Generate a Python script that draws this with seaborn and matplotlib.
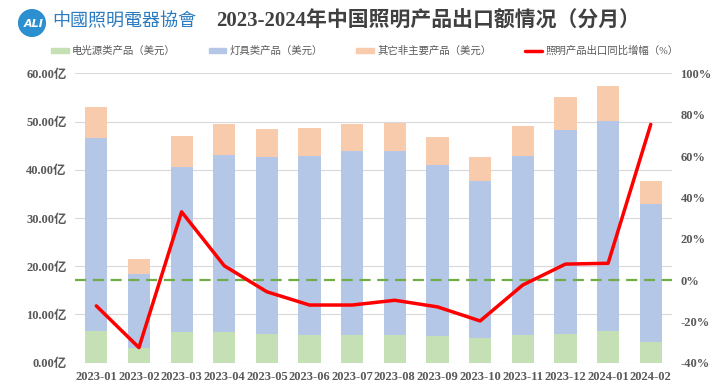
import numpy as np
import pandas as pd
import matplotlib
matplotlib.use("Agg")
import matplotlib.pyplot as plt
import seaborn as sns
from matplotlib.patches import Patch, Circle
from matplotlib.lines import Line2D
from matplotlib.ticker import FuncFormatter

# data, units: 亿美元 and %
months = ["2023-01", "2023-02", "2023-03", "2023-04", "2023-05", "2023-06", "2023-07",
          "2023-08", "2023-09", "2023-10", "2023-11", "2023-12", "2024-01", "2024-02"]
light_source = [6.6, 3.1, 6.4, 6.4, 6.0, 5.8, 5.8, 5.8, 5.5, 5.2, 5.8, 6.0, 6.6, 4.3]
lamps = [40.0, 15.3, 34.1, 36.6, 36.7, 37.1, 38.1, 38.1, 35.4, 32.4, 37.1, 42.3, 43.6, 28.6]
others = [6.5, 3.05, 6.5, 6.4, 5.8, 5.7, 5.6, 5.8, 5.8, 5.1, 6.2, 6.8, 7.2, 4.8]
yoy = [-12.5, -32.7, 33.0, 6.9, -5.7, -12.1, -12.1, -9.8, -13.0, -19.8, -2.4, 7.7, 8.1, 75.3]

labels = ["电光源类产品（美元）", "灯具类产品（美元）", "其它非主要产品（美元）", "照明产品出口同比增幅（%）"]
colors = ["#C5E0B4", "#B4C7E7", "#F8CBAD", "#FF0000"]

df = pd.DataFrame({"month": months, "light": light_source, "lamp": lamps, "other": others})
df["lvl1"] = df["light"]
df["lvl2"] = df["light"] + df["lamp"]
df["lvl3"] = df["lvl2"] + df["other"]

sns.set_style("white")
plt.rcParams["font.family"] = ["Liberation Serif", "Noto Sans CJK SC"]
txt = "#595959"

fig = plt.figure(figsize=(7.25, 3.91), dpi=100)
ax = fig.add_axes([0.1034, 0.0724, 0.8236, 0.74])

# stacked bars, drawn from the tallest layer down
for col, c in zip(["lvl3", "lvl2", "lvl1"], [colors[2], colors[1], colors[0]]):
    sns.barplot(data=df, x="month", y=col, color=c, width=0.52, saturation=1,
                edgecolor="none", ax=ax, zorder=2)

ax.set_ylim(0, 60)
ax.set_yticks(np.arange(0, 61, 10))
ax.yaxis.set_major_formatter(FuncFormatter(lambda v, p: f"{v:.2f}亿"))
ax.set_xlim(-0.5, len(months) - 0.5)
ax.set_xlabel("")
ax.set_ylabel("")
ax.grid(axis="y", color="#D9D9D9", lw=0.8, zorder=0)
ax.set_axisbelow(True)
for s in ax.spines.values():
    s.set_visible(False)
ax.tick_params(length=0, labelsize=9, labelcolor=txt, pad=6)
for t in ax.get_xticklabels() + ax.get_yticklabels():
    t.set_fontweight("bold")

ax2 = ax.twinx()
ax2.axhline(0, color="#70AD47", lw=1.6, ls=(0, (5, 3)), zorder=1)
sns.lineplot(x=np.arange(len(months)), y=yoy, color=colors[3], lw=2.5, ax=ax2, zorder=3)
ax2.set_ylim(-40, 100)
ax2.set_yticks(np.arange(-40, 101, 20))
ax2.yaxis.set_major_formatter(FuncFormatter(lambda v, p: f"{v:.0f}%"))
for s in ax2.spines.values():
    s.set_visible(False)
ax2.tick_params(length=0, labelsize=9, labelcolor=txt, pad=6)
for t in ax2.get_yticklabels():
    t.set_fontweight("bold")

# legend
handles = [Patch(color=colors[0]), Patch(color=colors[1]), Patch(color=colors[2]),
           Line2D([], [], color=colors[3], lw=2.5)]
fig.legend(handles, labels, loc="center", bbox_to_anchor=(0.503, 0.870), ncol=4,
           frameon=False, fontsize=7.5, labelcolor=txt, handlelength=1.7,
           handleheight=0.45, handletextpad=0.3, columnspacing=3.2)

# title and logo
fig.text(0.59, 0.945, "2023-2024年中国照明产品出口额情况（分月）", ha="center", va="center",
         fontsize=15, fontweight="bold", color="#404040")
lax = fig.add_axes([18 / 725, 1 - 37 / 391, 28 / 725, 28 / 391])
lax.set_aspect("equal")
lax.add_patch(Circle((0, 0), 1, color="#2B8FD0"))
lax.text(0.1, -0.05, "ALI", ha="center", va="center", color="white", fontsize=8,
         fontweight="bold", style="italic", family="DejaVu Sans")
lax.set_xlim(-1.05, 1.05)
lax.set_ylim(-1.05, 1.05)
lax.axis("off")
fig.text(52 / 725, 0.945, "中國照明電器協會", ha="left", va="center", fontsize=13,
         color="#2B7BC0", family=["Noto Sans CJK TC"])

fig.savefig("out.png", dpi=100)
